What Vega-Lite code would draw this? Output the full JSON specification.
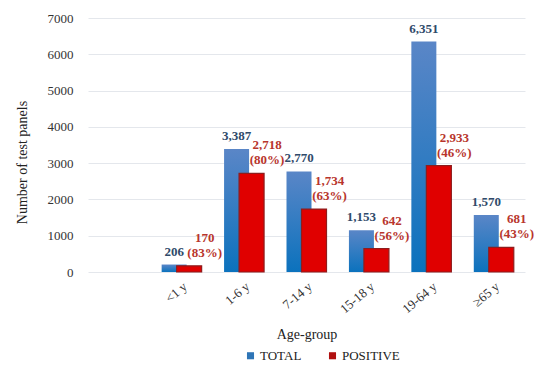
{
  "$schema": "https://vega.github.io/schema/vega-lite/v6.json",
  "width": 437,
  "height": 254,
  "autosize": {"type": "none"},
  "padding": {"left": 88, "top": 18, "right": 25, "bottom": 114},
  "background": "white",
  "config": {
    "view": {"stroke": null},
    "font": "Liberation Serif",
    "axis": {"labelFont": "Liberation Serif", "titleFont": "Liberation Serif"},
    "legend": {"labelFont": "Liberation Serif"},
    "text": {"font": "Liberation Serif"}
  },
  "data": {
    "values": [
      {"age": "<1 y", "series": "TOTAL", "value": 206, "label": "206"},
      {"age": "1-6 y", "series": "TOTAL", "value": 3387, "label": "3,387"},
      {"age": "7-14 y", "series": "TOTAL", "value": 2770, "label": "2,770"},
      {"age": "15-18 y", "series": "TOTAL", "value": 1153, "label": "1,153"},
      {"age": "19-64 y", "series": "TOTAL", "value": 6351, "label": "6,351"},
      {"age": "≥65 y", "series": "TOTAL", "value": 1570, "label": "1,570"},
      {"age": "<1 y", "series": "POSITIVE", "value": 170, "label": "170\n(83%)"},
      {"age": "1-6 y", "series": "POSITIVE", "value": 2718, "label": "2,718\n(80%)"},
      {"age": "7-14 y", "series": "POSITIVE", "value": 1734, "label": "1,734\n(63%)"},
      {"age": "15-18 y", "series": "POSITIVE", "value": 642, "label": "642\n(56%)"},
      {"age": "19-64 y", "series": "POSITIVE", "value": 2933, "label": "2,933\n(46%)"},
      {"age": "≥65 y", "series": "POSITIVE", "value": 681, "label": "681\n(43%)"}
    ]
  },
  "encoding": {
    "x": {
      "field": "age",
      "type": "nominal",
      "scale": {"domain": [" ", "<1 y", "1-6 y", "7-14 y", "15-18 y", "19-64 y", "≥65 y"], "paddingInner": 0, "paddingOuter": 0},
      "axis": {
        "title": "Age-group",
        "titleFont": "Liberation Serif",
        "titleFontSize": 14,
        "titleFontWeight": "normal",
        "titleColor": "#222222",
        "titlePadding": 12,
        "labelAngle": -40,
        "labelFont": "Liberation Serif",
        "labelFontSize": 13,
        "labelColor": "#333333",
        "labelPadding": 8,
        "domain": false,
        "ticks": false,
        "grid": false
      }
    },
    "y": {
      "field": "value",
      "type": "quantitative",
      "scale": {"domain": [0, 7000], "nice": false},
      "axis": {
        "title": "Number of test panels",
        "titleFont": "Liberation Serif",
        "titleFontSize": 14,
        "titleFontWeight": "normal",
        "titleColor": "#222222",
        "titleX": -66,
        "titleY": 144,
        "titleAngle": -90,
        "titleAlign": "center",
        "titleBaseline": "middle",
        "values": [0, 1000, 2000, 3000, 4000, 5000, 6000, 7000],
        "format": "d",
        "labelFont": "Liberation Serif",
        "labelFontSize": 13,
        "labelColor": "#333333",
        "labelPadding": 15,
        "domain": false,
        "ticks": false,
        "gridColor": "#e4e7ec",
        "gridWidth": 1
      }
    }
  },
  "layer": [
    {
      "transform": [{"filter": "datum.series === 'TOTAL'"}],
      "mark": {
        "type": "bar",
        "width": 25,
        "xOffset": -7.5,
        "color": {
          "gradient": "linear",
          "x1": 0, "y1": 0, "x2": 0, "y2": 1,
          "stops": [
            {"offset": 0, "color": "#5a86c7"},
            {"offset": 1, "color": "#0b72bd"}
          ]
        }
      }
    },
    {
      "transform": [{"filter": "datum.series === 'POSITIVE'"}],
      "mark": {
        "type": "bar",
        "width": 25,
        "xOffset": 7.5,
        "fill": "#e00000",
        "stroke": "#8e1d1d",
        "strokeWidth": 1.2
      }
    },
    {
      "transform": [{"filter": "datum.series === 'TOTAL'"}],
      "mark": {
        "type": "text",
        "xOffset": -7.5,
        "dy": -6,
        "baseline": "bottom",
        "align": "center",
        "font": "Liberation Serif",
        "fontSize": 13,
        "fontWeight": "bold",
        "color": "#2f4a6a"
      },
      "encoding": {"text": {"field": "label"}}
    },
    {
      "transform": [{"filter": "datum.series === 'POSITIVE'"}],
      "mark": {
        "type": "text",
        "xOffset": 23,
        "dy": -21,
        "baseline": "bottom",
        "align": "center",
        "lineBreak": "\n",
        "lineHeight": 15,
        "font": "Liberation Serif",
        "fontSize": 13,
        "fontWeight": "bold",
        "color": "#b8352c"
      },
      "encoding": {"text": {"field": "label"}}
    },
    {
      "mark": {"type": "square", "opacity": 0},
      "encoding": {
        "color": {
          "field": "series",
          "type": "nominal",
          "scale": {"domain": ["TOTAL", "POSITIVE"], "range": ["#2e75b6", "#b01010"]},
          "legend": {
            "title": null,
            "orient": "none",
            "direction": "horizontal",
            "legendX": 156,
            "legendY": 331,
            "symbolType": "square",
            "symbolSize": 50,
            "symbolOpacity": 1,
            "symbolStrokeWidth": 0,
            "labelFont": "Liberation Serif",
            "labelFontSize": 13,
            "labelColor": "#222222",
            "labelOffset": 3,
            "columnPadding": 24
          }
        }
      }
    }
  ]
}
